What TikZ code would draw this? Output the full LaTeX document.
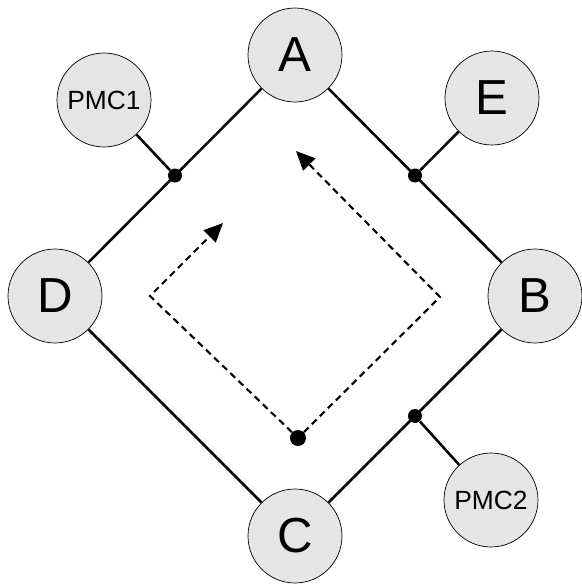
\documentclass[tikz,border=0pt]{standalone}
\usepackage{fontspec}
\setmainfont{Liberation Sans}
\usetikzlibrary{arrows.meta,calc}
\tikzset{station/.style={draw,circle,thin,fill=black!10,minimum size=1.88cm,inner sep=0pt,font=\fontsize{28}{30}\selectfont},
  pmc/.style={station,font=\fontsize{15}{17}\selectfont},
  link/.style={line width=1.45pt},
  junc/.style={circle,fill=black,inner sep=0pt,minimum size=0.28cm},
  flow/.style={line width=1.2pt,dash pattern=on 3.8pt off 2.6pt,-{Triangle[length=3.8mm,width=3.4mm]}}}

\begin{document}
\begin{tikzpicture}
\useasboundingbox (-5.9,-5.76) rectangle (5.74,5.92);
% ring stations
\node[station] (A) at (0,4.82) {A};
\node[station] (B) at (4.8,0) {B};
\node[station] (C) at (0,-4.8) {C};
\node[station] (D) at (-4.8,0) {D};
% ring links
\draw[link] (A) -- (B) -- (C) -- (D) -- (A);
% taps on the ring
\node[junc] (jAD) at ($(A)!0.5!(D)$) {};
\node[junc] (jAB) at ($(A)!0.5!(B)$) {};
\node[junc] (jBC) at ($(B)!0.5!(C)$) {};
\node[pmc] (P1) at (-3.82,3.92) {PMC1};
\node[station] (E) at (3.94,3.96) {E};
\node[pmc] (P2) at (3.92,-4.08) {PMC2};
\draw[link] (P1) -- (jAD);
\draw[link] (E) -- (jAB);
\draw[link] (P2) -- (jBC);
% token paths
\node[circle,fill=black,inner sep=0pt,minimum size=0.32cm] (src) at (0.06,-2.84) {};
\coordinate (rc) at (2.9,-0.02);
\coordinate (lc) at (-2.9,0);
\coordinate (rt) at (0.02,2.9);
\coordinate (lt) at (-1.44,1.46);
\draw[flow] (src) -- (rc) -- (rt);
\draw[flow] (src) -- (lc) -- (lt);
\end{tikzpicture}
\end{document}
